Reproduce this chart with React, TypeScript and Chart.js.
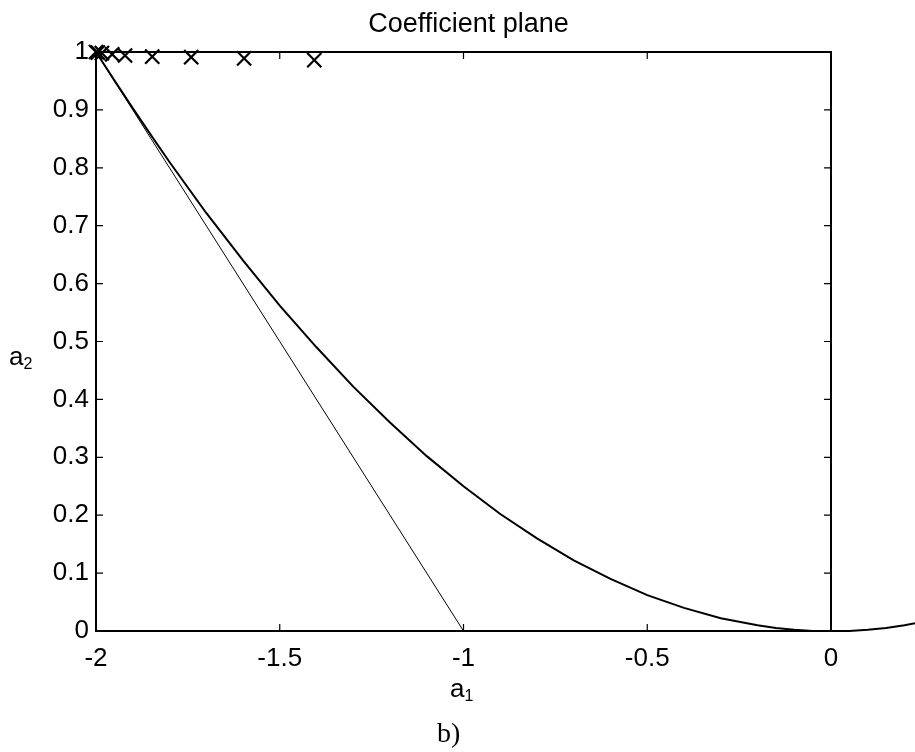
import React, { useEffect, useRef } from "react";
import { Chart, registerables } from "chart.js";

Chart.register(...registerables);

// ---- data ----
const parabolaA1 = [
  -2, -1.95, -1.9, -1.85, -1.8, -1.7, -1.6, -1.5, -1.4, -1.3, -1.2, -1.1, -1.0,
  -0.9, -0.8, -0.7, -0.6, -0.5, -0.4, -0.3, -0.2, -0.15, -0.1, -0.05, 0, 0.05,
  0.1, 0.15, 0.2, 0.25,
];
const parabolaA2 = [
  1, 0.951, 0.903, 0.856, 0.81, 0.722, 0.64, 0.562, 0.49, 0.422, 0.36, 0.302,
  0.25, 0.202, 0.16, 0.122, 0.09, 0.062, 0.04, 0.022, 0.01, 0.005, 0.002, 0, 0,
  0, 0.002, 0.005, 0.01, 0.016,
];
const lineA1 = [-2, -1];
const lineA2 = [1, 0];
const crossA1 = [-2, -1.995, -1.984, -1.956, -1.921, -1.847, -1.741, -1.597, -1.406];
const crossA2 = [1, 0.999, 0.998, 0.996, 0.994, 0.992, 0.991, 0.989, 0.986];
const xTicks = [-2, -1.5, -1, -0.5, 0];
const yTicks = [0, 0.1, 0.2, 0.3, 0.4, 0.5, 0.6, 0.7, 0.8, 0.9, 1];
const titleText = "Coefficient plane";
const xLabelMain = "a";
const xLabelSub = "1";
const yLabelMain = "a";
const yLabelSub = "2";
const captionText = "b)";

const W = 915;
const H = 752;
const SANS = "'Liberation Sans', Arial, sans-serif";
const SERIF = "'Liberation Serif', 'Times New Roman', serif";

const toPts = (xs: number[], ys: number[]) => xs.map((x, i) => ({ x, y: ys[i] }));

const framePlugin = {
  id: "frame",
  afterDraw(chart: any) {
    const { ctx, chartArea: a, scales } = chart;
    const xs = scales.x;
    const ys = scales.y;
    ctx.save();
    ctx.strokeStyle = "#000";
    ctx.lineWidth = 2;
    ctx.strokeRect(a.left, a.top, a.right - a.left, a.bottom - a.top);
    const tl = 7;
    ctx.beginPath();
    xTicks.forEach((v) => {
      const px = xs.getPixelForValue(v);
      ctx.moveTo(px, a.bottom);
      ctx.lineTo(px, a.bottom - tl);
      ctx.moveTo(px, a.top);
      ctx.lineTo(px, a.top + tl);
    });
    yTicks.forEach((v) => {
      const py = ys.getPixelForValue(v);
      ctx.moveTo(a.left, py);
      ctx.lineTo(a.left + tl, py);
      ctx.moveTo(a.right, py);
      ctx.lineTo(a.right - tl, py);
    });
    ctx.lineWidth = 1.2;
    ctx.stroke();

    ctx.fillStyle = "#000";
    ctx.textBaseline = "alphabetic";
    // title
    ctx.font = `27px ${SANS}`;
    ctx.textAlign = "center";
    ctx.fillText(titleText, (a.left + a.right) / 2 + 5, 32);

    // x label a1
    ctx.textAlign = "left";
    ctx.font = `26px ${SANS}`;
    const xl = 450;
    ctx.fillText(xLabelMain, xl, 697);
    const aw = ctx.measureText(xLabelMain).width;
    ctx.font = `16px ${SANS}`;
    ctx.fillText(xLabelSub, xl + aw, 701);

    // y label a2
    ctx.font = `26px ${SANS}`;
    const yl = 9;
    ctx.fillText(yLabelMain, yl, 365);
    const aw2 = ctx.measureText(yLabelMain).width;
    ctx.font = `16px ${SANS}`;
    ctx.fillText(yLabelSub, yl + aw2, 369);

    // caption
    ctx.font = `28px ${SERIF}`;
    ctx.fillText(captionText, 437, 742);
    ctx.restore();
  },
};

export default function App() {
  const ref = useRef<HTMLCanvasElement | null>(null);
  useEffect(() => {
    if (!ref.current) return;
    // listed right-to-left so the line controller keeps the points beyond x = 0
    const parabolaPts = toPts(parabolaA1, parabolaA2).reverse();
    const chart = new Chart(ref.current, {
      type: "scatter",
      data: {
        datasets: [
          {
            data: parabolaPts,
            showLine: true,
            borderColor: "#000",
            borderWidth: 2,
            pointRadius: 0,
            tension: 0,
            clip: false,
          } as any,
          {
            data: toPts(lineA1, lineA2),
            showLine: true,
            borderColor: "#000",
            borderWidth: 1,
            pointRadius: 0,
            clip: false,
          } as any,
          {
            data: toPts(crossA1, crossA2),
            showLine: false,
            pointStyle: "crossRot",
            pointRadius: 10,
            pointBorderWidth: 2.2,
            pointBorderColor: "#000",
            borderColor: "#000",
            backgroundColor: "#000",
            clip: false,
          } as any,
        ],
      },
      options: {
        responsive: false,
        animation: false,
        devicePixelRatio: 1,
        layout: { padding: { left: 0, top: 52, right: 84, bottom: 0 } },
        plugins: {
          legend: { display: false },
          title: { display: false },
          tooltip: { enabled: false },
        },
        events: [],
        scales: {
          x: {
            type: "linear",
            min: -2,
            max: 0,
            grid: { display: false, drawTicks: false },
            border: { display: false },
            afterBuildTicks: (s: any) => {
              s.ticks = xTicks.map((v) => ({ value: v }));
            },
            afterFit: (s: any) => {
              s.height = H - 631;
            },
            ticks: {
              autoSkip: false,
              maxRotation: 0,
              padding: 12,
              color: "#000",
              font: { family: SANS, size: 26 },
              callback: (v: any) => String(v),
            },
          },
          y: {
            type: "linear",
            min: 0,
            max: 1,
            grid: { display: false, drawTicks: false },
            border: { display: false },
            afterBuildTicks: (s: any) => {
              s.ticks = yTicks.map((v) => ({ value: v }));
            },
            afterFit: (s: any) => {
              s.width = 96;
            },
            ticks: {
              autoSkip: false,
              padding: 7,
              color: "#000",
              font: { family: SANS, size: 26 },
              callback: (v: any) => String(v),
            },
          },
        },
      },
      plugins: [framePlugin],
    } as any);
    return () => chart.destroy();
  }, []);
  return (
    <div style={{ position: "absolute", left: 0, top: 0, width: W, height: H, background: "#fff" }}>
      <canvas ref={ref} width={W} height={H} style={{ display: "block", width: W, height: H }} />
    </div>
  );
}
